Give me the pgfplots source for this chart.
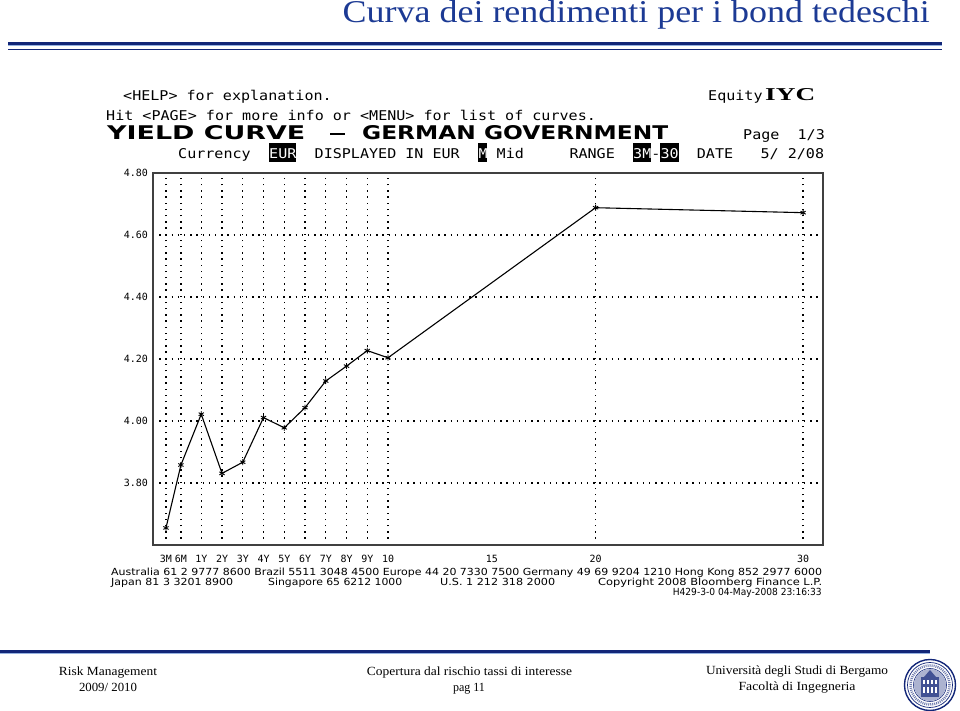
\documentclass[border=0pt]{standalone}
\usepackage{pgfplots}
\pgfplotsset{compat=1.18}
\usepackage{graphicx}
\usepackage{fontspec}
\setmainfont{Liberation Serif}
\newfontfamily\bbmono{DejaVu Sans Mono}
\newfontfamily\bbsans{DejaVu Sans}
\definecolor{titleblue}{RGB}{28,58,148}
\definecolor{navy}{RGB}{18,38,120}
\definecolor{lightnavy}{RGB}{150,178,225}
\newcommand{\bm}[1]{\scalebox{1.12}[1]{\bbmono\fontsize{13.5}{14}\selectfont #1}}
\newcommand{\bs}[2]{\resizebox{#1bp}{\height}{\bbsans\fontsize{9.8}{10}\selectfont #2}}
\newcommand{\ft}[2]{\resizebox{#1bp}{\height}{\fontsize{12.5}{13}\selectfont #2}}
\begin{document}
\begin{tikzpicture}
\begin{scope}[x=1bp,y=1bp]
\useasboundingbox (0,0) rectangle (960,711);
\fill[white] (0,0) rectangle (960,711);
% title
\node[anchor=base east, inner sep=0, text=titleblue] at (930,688)
  {\resizebox{587bp}{22bp}{\fontsize{30}{32}\selectfont Curva dei rendimenti per i bond tedeschi}};
\draw[line width=4.5bp, lightnavy] (8,667) -- (942,667);
\draw[line width=3bp, navy] (8,667) -- (942,667);
\draw[line width=1.6bp, navy] (8,661.5) -- (942,661.5);
% Bloomberg header
\node[anchor=base west, inner sep=0] at (123,610) {\bm{<HELP> for explanation.}};
\node[anchor=base west, inner sep=0] at (106,590) {\bm{Hit <PAGE> for more info or <MENU> for list of curves.}};
\node[anchor=base west, inner sep=0] at (708,610) {\bm{Equity}};
\node[anchor=base west, inner sep=0] at (765,610) {\resizebox{50bp}{12bp}{\bfseries\fontsize{18}{18}\selectfont IYC}};
\node[anchor=base west, inner sep=0] at (107,571) {\resizebox{198bp}{14bp}{\bbsans\bfseries\fontsize{19}{19}\selectfont YIELD CURVE}};
\fill[black] (330,576) rectangle (345,578.2);
\node[anchor=base west, inner sep=0] at (362,571) {\resizebox{306bp}{14bp}{\bbsans\bfseries\fontsize{19}{19}\selectfont GERMAN GOVERNMENT}};
\node[anchor=base west, inner sep=0] at (743,571) {\bm{Page\ \ 1/3}};
% currency line
\fill[black] (269,549) rectangle (296.3,568);
\fill[black] (478.3,549) rectangle (487.4,568);
\fill[black] (633,549) rectangle (651.2,568);
\fill[black] (660.3,549) rectangle (678.5,568);
\node[anchor=base west, inner sep=0] at (178,552) {\bm{Currency}};
\node[anchor=base west, inner sep=0, text=white] at (269,552) {\bm{EUR}};
\node[anchor=base west, inner sep=0] at (314.5,552) {\bm{DISPLAYED IN EUR}};
\node[anchor=base west, inner sep=0, text=white] at (478.3,552) {\bm{M}};
\node[anchor=base west, inner sep=0] at (496.5,552) {\bm{Mid}};
\node[anchor=base west, inner sep=0] at (569.3,552) {\bm{RANGE}};
\node[anchor=base west, inner sep=0, text=white] at (633,552) {\bm{3M}};
\node[anchor=base west, inner sep=0] at (651.2,552) {\bm{-}};
\node[anchor=base west, inner sep=0, text=white] at (660.3,552) {\bm{30}};
\node[anchor=base west, inner sep=0] at (696.7,552) {\bm{DATE}};
\node[anchor=base west, inner sep=0] at (760.4,552) {\bm{5/ 2/08}};
% bottom Bloomberg text
\node[anchor=base west, inner sep=0] at (111,135.5) {\bs{711}{Australia 61 2 9777 8600 Brazil 5511 3048 4500 Europe 44 20 7330 7500 Germany 49 69 9204 1210 Hong Kong 852 2977 6000}};
\node[anchor=base west, inner sep=0] at (111,125.5) {\bs{122}{Japan 81 3 3201 8900}};
\node[anchor=base west, inner sep=0] at (268,125.5) {\bs{134}{Singapore 65 6212 1000}};
\node[anchor=base west, inner sep=0] at (440,125.5) {\bs{115}{U.S. 1 212 318 2000}};
\node[anchor=base west, inner sep=0] at (598,125.5) {\bs{224}{Copyright 2008 Bloomberg Finance L.P.}};
\node[anchor=base east, inner sep=0] at (822,115.5) {\bs{149}{H429-3-0 04-May-2008 23:16:33}};
% footer
\draw[line width=4.5bp, lightnavy] (0,59) -- (930,59);
\draw[line width=3bp, navy] (0,59) -- (930,59);
\node[anchor=base, inner sep=0] at (108,35) {\ft{98}{Risk Management}};
\node[anchor=base, inner sep=0] at (108,19) {\ft{58}{2009/ 2010}};
\node[anchor=base, inner sep=0] at (469.5,35) {\ft{205}{Copertura dal rischio tassi di interesse}};
\node[anchor=base, inner sep=0] at (469,19) {\ft{32}{pag 11}};
\node[anchor=base, inner sep=0] at (797,36) {\ft{182}{Università degli Studi di Bergamo}};
\node[anchor=base, inner sep=0] at (797,20) {\ft{117}{Facoltà di Ingegneria}};
% logo
\fill[white] (930,26) circle (26);
\draw[navy, line width=1.4bp] (930,26) circle (25.5);
\draw[navy, line width=0.7bp] (930,26) circle (22.5);
\draw[navy!60, line width=2.5bp, dash pattern=on 1bp off 1bp] (930,26) circle (19.5);
\draw[navy, line width=0.6bp] (930,26) circle (16.5);
\fill[navy!35] (930,26) circle (16);
\fill[navy!80] (921,14) rectangle (939,34);
\fill[navy!80] (924,34) -- (930,41) -- (936,34) -- cycle;
\foreach \xx in {923,927,931,935} {\fill[white] (\xx,18) rectangle (\xx+2,24); \fill[white] (\xx,27) rectangle (\xx+2,31);}
\end{scope}
% chart
\begin{axis}[
  at={(153bp,166bp)}, anchor=south west,
  scale only axis, width=670bp, height=372bp,
  xmin=-1.325, xmax=30.96, ymin=3.6, ymax=4.8,
  xtick={-0.7,0.02,1,2,3,4,5,6,7,8,9,10,20,30},
  xticklabels={3M,6M,1Y,2Y,3Y,4Y,5Y,6Y,7Y,8Y,9Y,10,20,30},
  extra x ticks={15}, extra x tick labels={15}, extra x tick style={grid=none},
  ytick={3.8,4.0,4.2,4.4,4.6}, yticklabels={3.80,4.00,4.20,4.40,4.60},
  extra y ticks={4.8}, extra y tick labels={4.80}, extra y tick style={grid=none},
  grid=major,
  major grid style={black, line width=1.4bp, dash pattern=on 1.4bp off 4.8bp},
  major tick length=0pt,
  tick label style={font=\bbmono\fontsize{10}{10}\selectfont},
  xticklabel style={anchor=north, inner sep=0pt, yshift=-10bp},
  yticklabel style={anchor=east, inner sep=0pt, xshift=-5bp},
  axis line style={draw=black!75, line width=1.3bp},
]
\addplot[black, line width=1.1bp, mark=asterisk, mark size=3bp, mark options={line width=0.9bp}]
  coordinates {(-0.7,3.655) (0.02,3.858) (1,4.022) (2,3.831) (3,3.867) (4,4.011) (5,3.978)
  (6,4.043) (7,4.129) (8,4.177) (9,4.227) (10,4.204) (20,4.688) (30,4.672)};
\end{axis}
\end{tikzpicture}
\end{document}
